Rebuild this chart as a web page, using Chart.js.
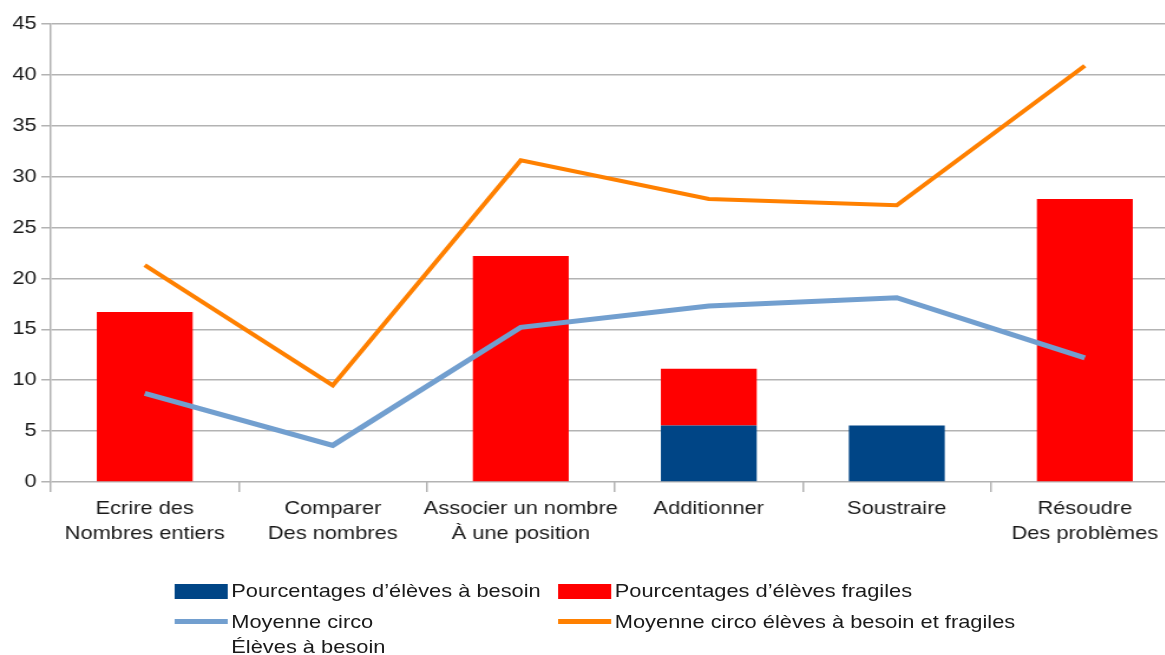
<!DOCTYPE html>
<html>
<head>
<meta charset="utf-8">
<script src="https://cdn.jsdelivr.net/npm/chart.js@4/dist/chart.umd.min.js"></script>
<style>
  body { margin: 0; width: 1165px; height: 655px; overflow: hidden; background: #fff; font-family: "Liberation Sans", Arial, sans-serif; }
  /* the reference looks stretched horizontally, so draw narrower and scale X */
  #stage { position: absolute; left: 0; top: 0; width: 1000px; height: 655px; transform: scaleX(1.18); transform-origin: 0 0; }
  #wrap { position: absolute; left: 0; top: 0; width: 1000px; height: 560px; }
  #legend { position: absolute; left: 0; top: 0; font-size: 18.5px; color: #1a1a1a; }
  .item { position: absolute; display: flex; align-items: flex-start; line-height: 25px; white-space: nowrap; }
  .swatch { width: 45px; margin-right: 3px; flex-shrink: 0; }
</style>
</head>
<body>
<div id="stage">
  <div id="wrap"><canvas id="chart" width="1000" height="560"></canvas></div>
  <div id="legend"></div>
</div>
<script>
const categories = [
  ["Ecrire des", "Nombres entiers"],
  ["Comparer", "Des nombres"],
  ["Associer un nombre", "À une position"],
  "Additionner",
  "Soustraire",
  ["Résoudre", "Des problèmes"]
];
const besoin = [0, 0, 0, 5.56, 5.56, 0];
const fragiles = [16.7, 0, 22.2, 5.56, 0, 27.8];
const moyenneBesoin = [8.7, 3.6, 15.2, 17.3, 18.1, 12.2];
const moyenneTotal = [21.3, 9.5, 31.6, 27.8, 27.2, 40.9];
const yTicks = [0, 5, 10, 15, 20, 25, 30, 35, 40, 45];

const gridColor = "#b3b3b3";
const textColor = "#1a1a1a";

const ctx = document.getElementById("chart").getContext("2d");

const chart = new Chart(ctx, {
  type: "bar",
  data: {
    labels: categories,
    datasets: [
      {
        label: "Pourcentages d’élèves à besoin",
        data: besoin,
        backgroundColor: "#004586",
        stack: "bars",
        order: 3
      },
      {
        label: "Pourcentages d’élèves fragiles",
        data: fragiles,
        backgroundColor: "#ff0000",
        stack: "bars",
        order: 3
      },
      {
        type: "line",
        label: "Moyenne circo\nÉlèves à besoin",
        data: moyenneBesoin,
        borderColor: "#729fcf",
        backgroundColor: "#729fcf",
        borderWidth: 5,
        pointRadius: 0,
        tension: 0,
        stack: "line1",
        order: 2
      },
      {
        type: "line",
        label: "Moyenne circo élèves à besoin et fragiles",
        data: moyenneTotal,
        borderColor: "#ff8000",
        backgroundColor: "#ff8000",
        borderWidth: 4,
        pointRadius: 0,
        tension: 0,
        stack: "line2",
        order: 1
      }
    ]
  },
  options: {
    responsive: false,
    animation: false,
    layout: { padding: { top: 24, right: 1, left: 0, bottom: 0 } },
    datasets: {
      bar: { categoryPercentage: 1, barPercentage: 0.51 }
    },
    plugins: {
      legend: { display: false },
      tooltip: { enabled: false }
    },
    scales: {
      x: {
        stacked: true,
        offset: true,
        grid: {
          offset: true,
          drawOnChartArea: false,
          drawTicks: true,
          tickLength: 10,
          color: gridColor,
          lineWidth: 1.5
        },
        border: { display: false },
        ticks: {
          color: textColor,
          font: { family: "Liberation Sans", size: 18.5, lineHeight: 1.35 },
          padding: 4,
          maxRotation: 0,
          autoSkip: false
        },
        afterFit: (scale) => { scale.height = 78; }
      },
      y: {
        stacked: true,
        min: 0,
        max: 45,
        afterBuildTicks: (scale) => { scale.ticks = yTicks.map(v => ({ value: v })); },
        grid: {
          color: gridColor,
          lineWidth: 1.5,
          tickLength: 8
        },
        border: { display: true, color: gridColor, width: 1.5 },
        ticks: {
          color: textColor,
          font: { family: "Liberation Sans", size: 18.5 },
          padding: 4
        },
        afterFit: (scale) => { scale.width = 43; }
      }
    }
  }
});

// Legend in two columns, built from the datasets
const legendPos = [
  { left: 148, top: 578 },
  { left: 473, top: 578 },
  { left: 148, top: 609 },
  { left: 473, top: 609 }
];
const legend = document.getElementById("legend");
chart.data.datasets.forEach((ds, i) => {
  const item = document.createElement("div");
  item.className = "item";
  item.style.left = legendPos[i].left + "px";
  item.style.top = legendPos[i].top + "px";
  const sw = document.createElement("div");
  sw.className = "swatch";
  if (ds.type === "line") {
    sw.style.height = "5px";
    sw.style.marginTop = "10px";
  } else {
    sw.style.height = "15px";
    sw.style.marginTop = "6px";
  }
  sw.style.background = ds.backgroundColor;
  const txt = document.createElement("div");
  txt.innerHTML = ds.label.replace("\n", "<br>");
  item.appendChild(sw);
  item.appendChild(txt);
  legend.appendChild(item);
});
</script>
</body>
</html>
